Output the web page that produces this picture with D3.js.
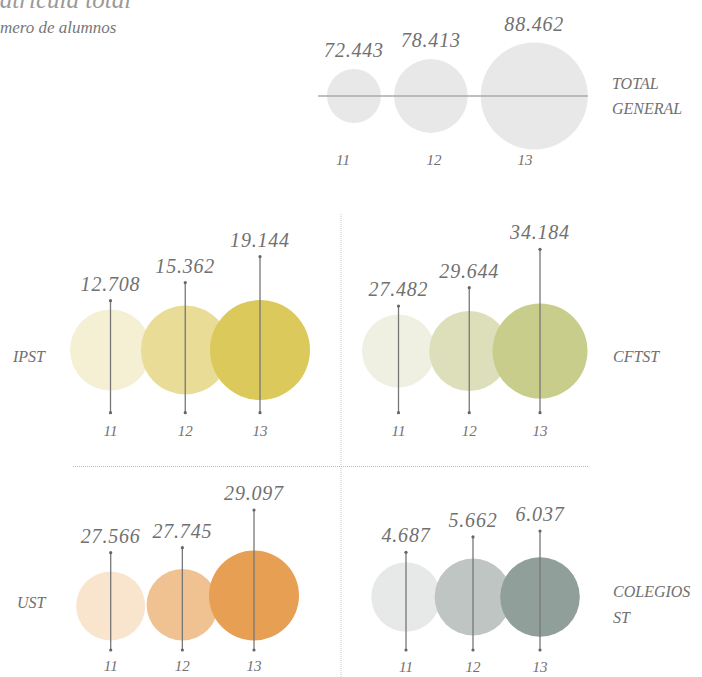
<!DOCTYPE html>
<html><head><meta charset="utf-8">
<script src="https://cdn.jsdelivr.net/npm/d3@7/dist/d3.min.js"></script>
<style>
html,body{margin:0;padding:0;background:#fff;}
svg{display:block;}
text{font-family:"Liberation Serif","DejaVu Serif",serif;font-style:italic;}
</style></head>
<body>
<svg id="chart" width="702" height="677"></svg>
<script>
// ---- data ----
const years = ["11", "12", "13"];
const totalValues = [72443, 78413, 88462];
const ipstValues = [12708, 15362, 19144];
const cftstValues = [27482, 29644, 34184];
const ustValues = [27566, 27745, 29097];
const colegiosValues = [4687, 5662, 6037];
const titleText = "Matrícula total";
const subtitleText = "número de alumnos";

// ---- styles ----
const palette = {
  total: ["#e8e8e8", "#e8e8e8", "#e8e8e8"],
  ipst: ["#f5f0d3", "#e8dc97", "#dbc95b"],
  cftst: ["#eff0e2", "#dcdfb9", "#c8cd8c"],
  ust: ["#f9e4ce", "#f0c191", "#e79f53"],
  colegios: ["#e7e9e8", "#bfc5c2", "#909f9a"]
};
const textColor = "#707070";
const lineColor = "#777";

const loc = d3.formatLocale({decimal: ",", thousands: ".", grouping: [3], currency: ["", ""]});
const fmt = loc.format(",d");

const svg = d3.select("#chart");

// title
svg.append("text").attr("x", -21).attr("y", 8).attr("font-size", 25)
  .attr("fill", "#9a9a9a").text(titleText);
svg.append("text").attr("x", -17).attr("y", 33).attr("font-size", 17)
  .attr("fill", "#777").text(subtitleText);

// separators
svg.append("line").attr("x1", 341).attr("x2", 341).attr("y1", 214).attr("y2", 677)
  .attr("stroke", "#c8c8c8").attr("stroke-width", 1).attr("stroke-dasharray", "1,1");
svg.append("line").attr("x1", 73).attr("x2", 589).attr("y1", 466.5).attr("y2", 466.5)
  .attr("stroke", "#b8b8b8").attr("stroke-width", 1).attr("stroke-dasharray", "1,1");

// ---- total panel ----
(function(){
  const g = svg.append("g");
  const r = d3.scaleLinear().domain(d3.extent(totalValues)).range([27, 53.5]);
  const cy = 96, left = 327, gap = 13;
  const cx = [];
  let edge = left;
  totalValues.forEach((v, i) => { cx.push(edge + r(v)); edge = edge + 2 * r(v) + gap; });
  g.selectAll("circle").data(totalValues).join("circle")
    .attr("cx", (d, i) => cx[i]).attr("cy", cy).attr("r", d => r(d))
    .attr("fill", (d, i) => palette.total[i]);
  const last = totalValues.length - 1;
  g.append("line").attr("x1", cx[0] - r(totalValues[0]) - 9)
    .attr("x2", cx[last] + r(totalValues[last]))
    .attr("y1", cy).attr("y2", cy).attr("stroke", "#aaa").attr("stroke-width", 1.5);
  g.selectAll("text.val").data(totalValues).join("text").attr("class", "val")
    .attr("x", (d, i) => cx[i]).attr("y", d => cy - r(d) - 12)
    .attr("text-anchor", "middle").attr("font-size", 20).attr("letter-spacing", 0.8)
    .attr("fill", textColor).text(d => fmt(d));
  const yx = d3.scalePoint().domain(years).range([343, 525]);
  g.selectAll("text.yr").data(years).join("text").attr("class", "yr")
    .attr("x", d => yx(d)).attr("y", 165).attr("text-anchor", "middle")
    .attr("font-size", 15).attr("fill", textColor).text(d => d);
  g.selectAll("text.lab").data(["TOTAL", "GENERAL"]).join("text").attr("class", "lab")
    .attr("x", 612).attr("y", (d, i) => 89 + i * 25)
    .attr("font-size", 16).attr("fill", textColor).text(d => d);
})();

// ---- small panels ----
function panel(values, colors, cfg) {
  const g = svg.append("g");
  const x = d3.scalePoint().domain(years).range(cfg.xRange);
  const r = d3.scaleLinear().domain(d3.extent(values)).range(cfg.rRange);
  const top = d3.scaleLinear().domain(d3.extent(values)).range(cfg.topRange);
  const cyOf = d => cfg.bottomAlign != null ? cfg.bottomAlign - r(d) : cfg.cy;
  const data = values.map((v, i) => ({v, year: years[i], color: colors[i]}));
  g.selectAll("circle.b").data(data).join("circle").attr("class", "b")
    .attr("cx", d => x(d.year)).attr("cy", d => cyOf(d.v)).attr("r", d => r(d.v))
    .attr("fill", d => d.color);
  g.selectAll("line.s").data(data).join("line").attr("class", "s")
    .attr("x1", d => x(d.year)).attr("x2", d => x(d.year))
    .attr("y1", d => top(d.v)).attr("y2", cfg.lineBottom)
    .attr("stroke", lineColor).attr("stroke-width", 1.3);
  data.forEach(d => {
    [top(d.v), cfg.lineBottom].forEach(yy => {
      g.append("circle").attr("cx", x(d.year)).attr("cy", yy).attr("r", 1.6).attr("fill", "#666");
    });
  });
  g.selectAll("text.val").data(data).join("text").attr("class", "val")
    .attr("x", d => x(d.year)).attr("y", d => top(d.v) - 10)
    .attr("text-anchor", "middle").attr("font-size", 20).attr("letter-spacing", 0.8)
    .attr("fill", textColor).text(d => fmt(d.v));
  g.selectAll("text.yr").data(data).join("text").attr("class", "yr")
    .attr("x", d => x(d.year)).attr("y", cfg.yearY).attr("text-anchor", "middle")
    .attr("font-size", 15).attr("fill", textColor).text(d => d.year);
  g.selectAll("text.lab").data(cfg.label).join("text").attr("class", "lab")
    .attr("x", cfg.labelX).attr("y", (d, i) => cfg.labelY + i * 26)
    .attr("font-size", 16).attr("fill", textColor).text(d => d);
}

panel(ipstValues, palette.ipst, {
  xRange: [110.5, 260], rRange: [40.5, 50], topRange: [300.7, 256.7], cy: 350,
  lineBottom: 412.7, yearY: 436, label: ["IPST"], labelX: 13, labelY: 362
});
panel(cftstValues, palette.cftst, {
  xRange: [398.5, 540], rRange: [36.5, 47.5], topRange: [306, 249.3], cy: 351,
  lineBottom: 412.7, yearY: 436, label: ["CFTST"], labelX: 613, labelY: 362
});
panel(ustValues, palette.ust, {
  xRange: [110.7, 254], rRange: [34.5, 45], topRange: [552.7, 510], bottomAlign: 640.5,
  lineBottom: 650, yearY: 671, label: ["UST"], labelX: 17, labelY: 608
});
panel(colegiosValues, palette.colegios, {
  xRange: [406, 540], rRange: [34.7, 39.8], topRange: [552.3, 531], cy: 597,
  lineBottom: 650, yearY: 672, label: ["COLEGIOS", "ST"], labelX: 613, labelY: 597
});
</script>
</body></html>
